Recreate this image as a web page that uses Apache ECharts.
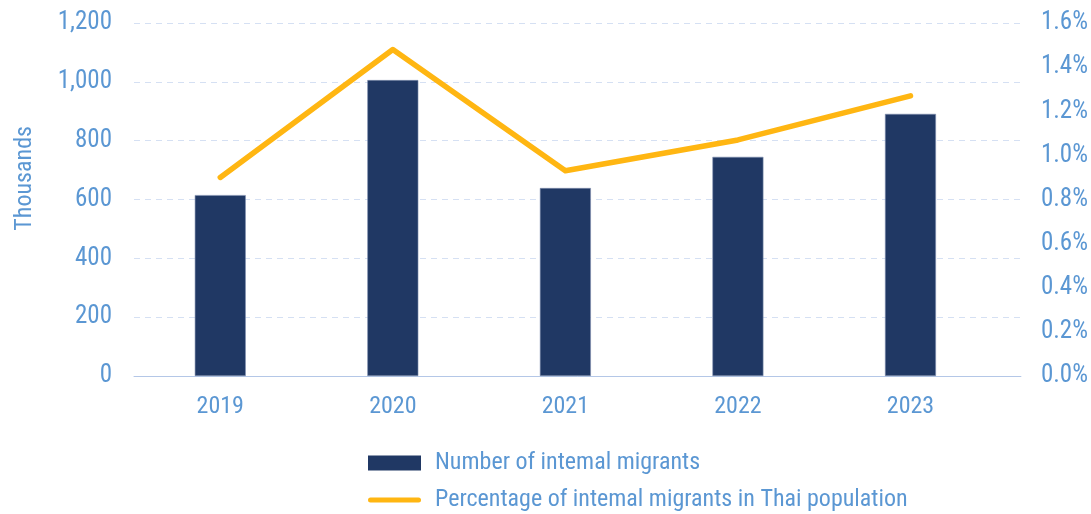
<!DOCTYPE html>
<html>
<head>
<meta charset="utf-8">
<script src="https://cdn.jsdelivr.net/npm/echarts@6/dist/echarts.min.js"></script>
<style>html,body{margin:0;padding:0;background:#fff}#c{width:1091px;height:514px}</style>
</head>
<body>
<div id="c"></div>
<script>
const years = [2019, 2020, 2021, 2022, 2023];
const migrants = [615, 1006, 639, 745, 891];
const percent = [0.90, 1.48, 0.93, 1.07, 1.27];
const leftTicks = [0, 200, 400, 600, 800, 1000, 1200];
const rightTicks = [0, 0.2, 0.4, 0.6, 0.8, 1.0, 1.2, 1.4, 1.6];
const seriesNames = ['Number of intemal migrants', 'Percentage of intemal migrants in Thai population'];

const FONT = "'Roboto Condensed','Liberation Sans Narrow','DejaVu Sans Condensed',Roboto,sans-serif";
const TXT = '#5b97d3';

const legendBase = {
  orient: 'horizontal', left: 363,
  itemWidth: 53, itemHeight: 15, itemGap: 20,
  itemStyle: { borderWidth: 0 },
  textStyle: { color: TXT, fontSize: 24, fontFamily: FONT, padding: [0, 0, 0, 9] }
};

const chart = echarts.init(document.getElementById('c'));
chart.setOption({
  animation: false,
  textStyle: { fontFamily: FONT },
  grid: { left: 134, right: 69, top: 23, bottom: 138 },
  graphic: [{
    type: 'text', left: 13, top: 126,
    style: { text: 'Thousands', fill: TXT, font: '24px ' + FONT },
    rotation: Math.PI / 2, originX: 0, originY: 0
  }],
  legend: [
    Object.assign({}, legendBase, { top: 446,
      data: [{ name: seriesNames[0], icon: 'rect' }] }),
    Object.assign({}, legendBase, { top: 483,
      data: [{ name: seriesNames[1], icon: 'path://M2.5,0 L50.5,0 A2.5,2.5 0 0 1 50.5,5 L2.5,5 A2.5,2.5 0 0 1 2.5,0 Z' }] })
  ],
  xAxis: {
    type: 'value',
    min: 2018.5, max: 2023.64,
    splitLine: { show: false },
    axisTick: { show: false },
    axisLine: { show: true, lineStyle: { color: '#b4c7e7', width: 1 } },
    axisLabel: {
      customValues: years,
      color: TXT, fontSize: 24, fontFamily: FONT, margin: 19,
      formatter: v => String(v)
    }
  },
  yAxis: [{
    type: 'value', min: 0, max: 1200, interval: 200,
    axisLine: { show: false }, axisTick: { show: false },
    axisLabel: { color: TXT, fontSize: 25, fontFamily: FONT, margin: 22,
      formatter: v => v.toLocaleString('en-US') },
    splitLine: { show: true, lineStyle: { color: '#d5e0f3', type: [6, 5], width: 1 } }
  }, {
    type: 'value', min: 0, max: 1.6, interval: 0.2,
    axisLine: { show: false }, axisTick: { show: false },
    axisLabel: { color: TXT, fontSize: 25, fontFamily: FONT, margin: 20,
      formatter: v => v.toFixed(1) + '%' },
    splitLine: { show: false }
  }],
  series: [{
    name: seriesNames[0], type: 'bar', barWidth: 51,
    itemStyle: { color: '#203864', borderColor: '#7f8fae', borderWidth: 0.6 },
    data: years.map((y, i) => [y, migrants[i]])
  }, {
    name: seriesNames[1], type: 'line', yAxisIndex: 1,
    symbol: 'none',
    lineStyle: { color: '#ffb612', width: 5.5, cap: 'round', join: 'round' },
    itemStyle: { color: '#ffb612' },
    data: years.map((y, i) => [y, percent[i]])
  }]
});
</script>
</body>
</html>
